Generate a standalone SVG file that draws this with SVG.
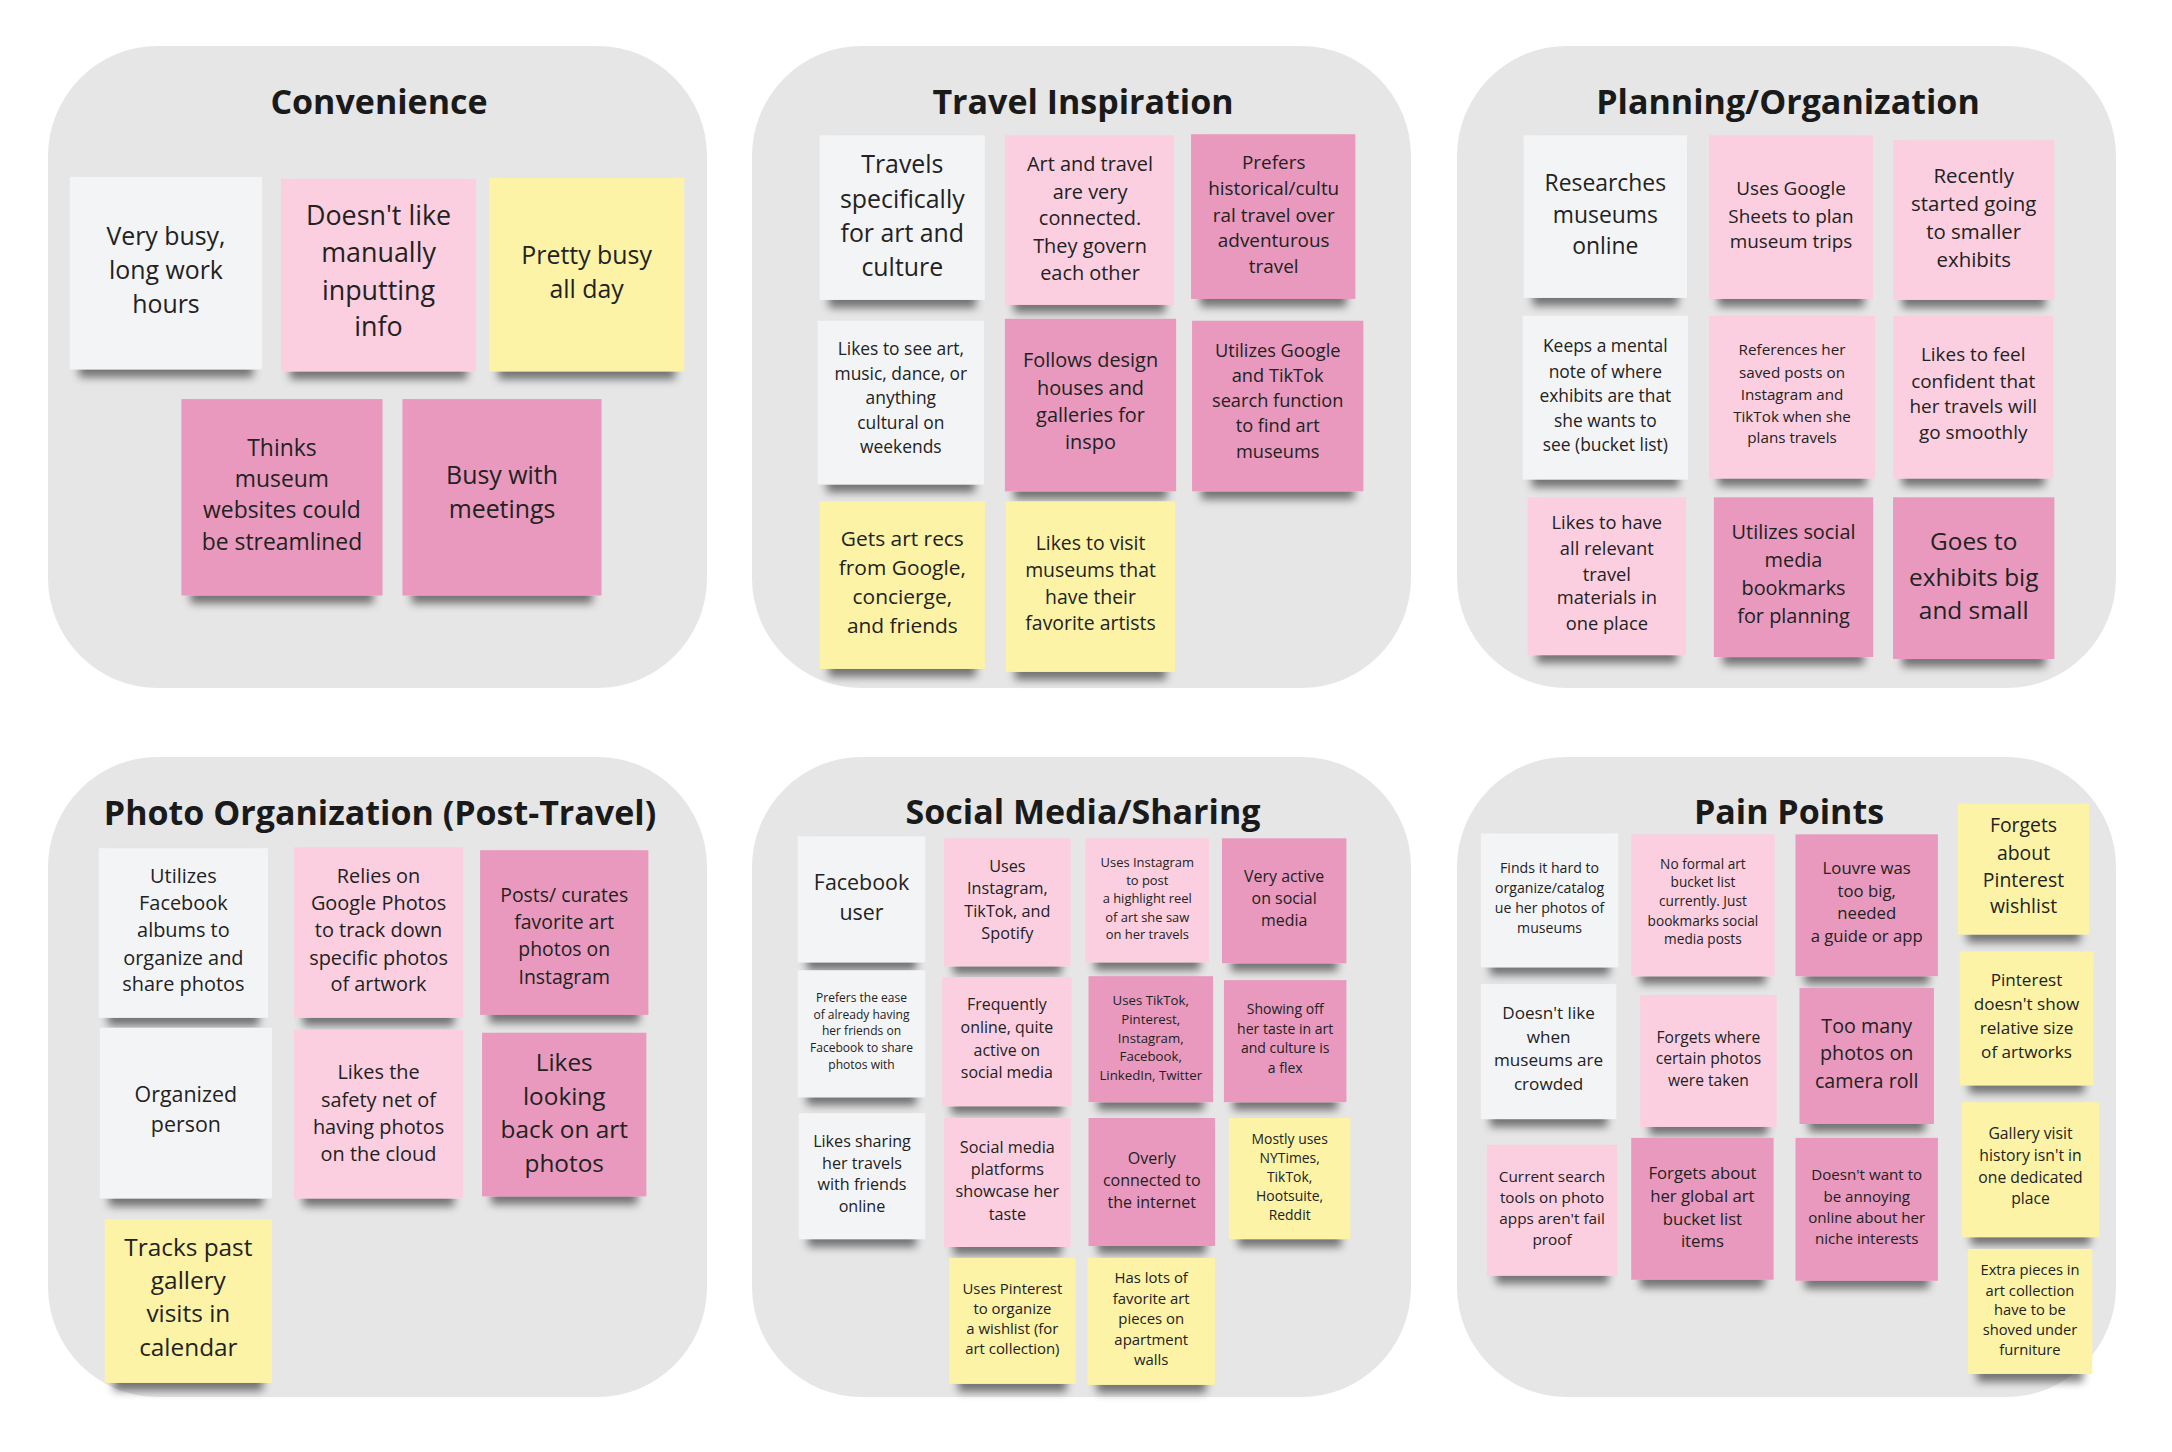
<svg xmlns="http://www.w3.org/2000/svg" width="2172" height="1452" viewBox="0 0 2172 1452">
<style>
.panel{fill:#e6e6e6}
.ttl{font-family:"Open Sans","Liberation Sans",sans-serif;font-weight:700;font-size:34px;fill:#1a1a1a;text-anchor:middle}
.t{font-family:"Open Sans","Liberation Sans",sans-serif;fill:#222;text-anchor:middle}
.w{fill:#f3f4f6}
.lp{fill:#fbcfe0}
.dp{fill:#e899bd}
.y{fill:#fcf3a6}
.s{filter:url(#sh)}
</style>
<defs>
<filter id="sh" x="-10%" y="-10%" width="120%" height="130%">
<feMorphology in="SourceAlpha" operator="erode" radius="9 0" result="e"/>
<feOffset in="e" dy="8" result="o"/>
<feGaussianBlur in="o" stdDeviation="4.5" result="b"/>
<feComponentTransfer in="b" result="s"><feFuncA type="linear" slope="0.5"/></feComponentTransfer>
<feMerge><feMergeNode in="s"/><feMergeNode in="SourceGraphic"/></feMerge>
</filter>
</defs>
<rect width="2172" height="1452" fill="#ffffff"/>

<!-- Panels -->
<g id="panel-convenience">
<rect class="panel" x="48" y="46" width="659" height="642" rx="110"/>
<text class="ttl" x="379" y="114">Convenience</text>
</g>
<g id="panel-travel">
<rect class="panel" x="752" y="46" width="659" height="642" rx="110"/>
<text class="ttl" x="1083" y="114">Travel Inspiration</text>
</g>
<g id="panel-planning">
<rect class="panel" x="1457" y="46" width="659" height="642" rx="110"/>
<text class="ttl" x="1788" y="114">Planning/Organization</text>
</g>
<g id="panel-photo">
<rect class="panel" x="48" y="757" width="659" height="640" rx="110"/>
<text class="ttl" x="380" y="825">Photo Organization (Post-Travel)</text>
</g>
<g id="panel-social">
<rect class="panel" x="752" y="757" width="659" height="640" rx="110"/>
<text class="ttl" x="1083" y="824">Social Media/Sharing</text>
</g>
<g id="panel-pain">
<rect class="panel" x="1457" y="757" width="659" height="640" rx="110"/>
<text class="ttl" x="1789" y="824">Pain Points</text>
</g>

<!-- Convenience -->
<g id="convenience-notes" transform="translate(40,40) scale(0.9957,0.992) translate(-40,-40)">
<g id="c1"><rect class="w s" x="70" y="178" width="193" height="194"/>
<text class="t" font-size="25"><tspan x="166.5" y="247">Very busy,</tspan><tspan x="166.5" y="281">long work</tspan><tspan x="166.5" y="315">hours</tspan></text></g>
<g id="c2"><rect class="lp s" x="282" y="180" width="196" height="194"/>
<text class="t" font-size="27"><tspan x="380" y="226">Doesn't like</tspan><tspan x="380" y="264">manually</tspan><tspan x="380" y="302">inputting</tspan><tspan x="380" y="338">info</tspan></text></g>
<g id="c3"><rect class="y s" x="491" y="179" width="196" height="195"/>
<text class="t" font-size="25"><tspan x="589" y="266">Pretty busy</tspan><tspan x="589" y="300">all day</tspan></text></g>
<g id="c4"><rect class="dp s" x="182" y="402" width="202" height="198"/>
<text class="t" font-size="23"><tspan x="283" y="459">Thinks</tspan><tspan x="283" y="490.5">museum</tspan><tspan x="283" y="522">websites could</tspan><tspan x="283" y="554">be streamlined</tspan></text></g>
<g id="c5"><rect class="dp s" x="404" y="402" width="200" height="198"/>
<text class="t" font-size="25"><tspan x="504" y="488">Busy with</tspan><tspan x="504" y="522">meetings</tspan></text></g>
</g>

<!-- Travel Inspiration -->
<g id="travel-notes" transform="translate(745,40) scale(0.9957,0.992) translate(-745,-40)">
<g id="t1"><rect class="w s" x="820" y="136" width="166" height="166"/>
<text class="t" font-size="25"><tspan x="903" y="174.5">Travels</tspan><tspan x="903" y="209">specifically</tspan><tspan x="903" y="244">for art and</tspan><tspan x="903" y="278">culture</tspan></text></g>
<g id="t2"><rect class="lp s" x="1006" y="136" width="170" height="171"/>
<text class="t" font-size="20"><tspan x="1091.5" y="172">Art and travel</tspan><tspan x="1091.5" y="200">are very</tspan><tspan x="1091.5" y="227">connected.</tspan><tspan x="1091.5" y="255">They govern</tspan><tspan x="1091.5" y="282">each other</tspan></text></g>
<g id="t3"><rect class="dp s" x="1193" y="135" width="165" height="166"/>
<text class="t" font-size="19"><tspan x="1276" y="170">Prefers</tspan><tspan x="1276" y="196.5">historical/cultu</tspan><tspan x="1276" y="223">ral travel over</tspan><tspan x="1276" y="249">adventurous</tspan><tspan x="1276" y="275">travel</tspan></text></g>
<g id="t4"><rect class="w s" x="818" y="323" width="167" height="165"/>
<text class="t" font-size="17.5"><tspan x="901.5" y="358">Likes to see art,</tspan><tspan x="901.5" y="382.6">music, dance, or</tspan><tspan x="901.5" y="407.2">anything</tspan><tspan x="901.5" y="431.7">cultural on</tspan><tspan x="901.5" y="456.5">weekends</tspan></text></g>
<g id="t5"><rect class="dp s" x="1006" y="321" width="172" height="174"/>
<text class="t" font-size="20"><tspan x="1092" y="370">Follows design</tspan><tspan x="1092" y="397.5">houses and</tspan><tspan x="1092" y="425">galleries for</tspan><tspan x="1092" y="452.5">inspo</tspan></text></g>
<g id="t6"><rect class="dp s" x="1194" y="323" width="172" height="172"/>
<text class="t" font-size="18.3"><tspan x="1280" y="359.5">Utilizes Google</tspan><tspan x="1280" y="385">and TikTok</tspan><tspan x="1280" y="409.5">search function</tspan><tspan x="1280" y="435.5">to find art</tspan><tspan x="1280" y="461">museums</tspan></text></g>
<g id="t7"><rect class="y s" x="820" y="505" width="166" height="169"/>
<text class="t" font-size="21"><tspan x="903" y="550">Gets art recs</tspan><tspan x="903" y="579.5">from Google,</tspan><tspan x="903" y="609">concierge,</tspan><tspan x="903" y="637.5">and friends</tspan></text></g>
<g id="t8"><rect class="y s" x="1007" y="505" width="170" height="172"/>
<text class="t" font-size="19.5"><tspan x="1092" y="554">Likes to visit</tspan><tspan x="1092" y="581.5">museums that</tspan><tspan x="1092" y="609">have their</tspan><tspan x="1092" y="634.5">favorite artists</tspan></text></g>
</g>

<!-- Planning/Organization -->
<g id="planning-notes" transform="translate(1450,40) scale(0.9957,0.992) translate(-1450,-40)">
<g id="p1"><rect class="w s" x="1524" y="136" width="164" height="164"/>
<text class="t" font-size="23"><tspan x="1606" y="192.5">Researches</tspan><tspan x="1606" y="224">museums</tspan><tspan x="1606" y="256">online</tspan></text></g>
<g id="p2"><rect class="lp s" x="1710" y="136" width="165" height="165"/>
<text class="t" font-size="19"><tspan x="1792.5" y="196.5">Uses Google</tspan><tspan x="1792.5" y="224">Sheets to plan</tspan><tspan x="1792.5" y="249.5">museum trips</tspan></text></g>
<g id="p3"><rect class="lp s" x="1895" y="141" width="162" height="161"/>
<text class="t" font-size="20.5"><tspan x="1976" y="184">Recently</tspan><tspan x="1976" y="212.5">started going</tspan><tspan x="1976" y="241">to smaller</tspan><tspan x="1976" y="268.5">exhibits</tspan></text></g>
<g id="p4"><rect class="w s" x="1523" y="318" width="166" height="165"/>
<text class="t" font-size="17.5"><tspan x="1606" y="355">Keeps a mental</tspan><tspan x="1606" y="380.5">note of where</tspan><tspan x="1606" y="405">exhibits are that</tspan><tspan x="1606" y="430">she wants to</tspan><tspan x="1606" y="454.5">see (bucket list)</tspan></text></g>
<g id="p5"><rect class="lp s" x="1710" y="318" width="167" height="164"/>
<text class="t" font-size="15.3"><tspan x="1793.5" y="358">References her</tspan><tspan x="1793.5" y="380.5">saved posts on</tspan><tspan x="1793.5" y="403">Instagram and</tspan><tspan x="1793.5" y="425">TikTok when she</tspan><tspan x="1793.5" y="446.5">plans travels</tspan></text></g>
<g id="p6"><rect class="lp s" x="1895" y="318" width="161" height="164"/>
<text class="t" font-size="19"><tspan x="1975.5" y="363.5">Likes to feel</tspan><tspan x="1975.5" y="391">confident that</tspan><tspan x="1975.5" y="416.5">her travels will</tspan><tspan x="1975.5" y="442">go smoothly</tspan></text></g>
<g id="p7"><rect class="lp s" x="1528" y="501" width="159" height="159"/>
<text class="t" font-size="18.4"><tspan x="1607.5" y="533">Likes to have</tspan><tspan x="1607.5" y="559.5">all relevant</tspan><tspan x="1607.5" y="585">travel</tspan><tspan x="1607.5" y="609">materials in</tspan><tspan x="1607.5" y="634.5">one place</tspan></text></g>
<g id="p8"><rect class="dp s" x="1715" y="501" width="160" height="161"/>
<text class="t" font-size="20"><tspan x="1795" y="543.5">Utilizes social</tspan><tspan x="1795" y="571">media</tspan><tspan x="1795" y="599">bookmarks</tspan><tspan x="1795" y="628">for planning</tspan></text></g>
<g id="p9"><rect class="dp s" x="1895" y="501" width="162" height="163"/>
<text class="t" font-size="24.5"><tspan x="1976" y="554">Goes to</tspan><tspan x="1976" y="590">exhibits big</tspan><tspan x="1976" y="624">and small</tspan></text></g>
</g>

<!-- Photo Organization -->
<g id="photo-notes" transform="translate(40,750) scale(0.9957,0.992) translate(-40,-750)">
<g id="ph1"><rect class="w s" x="99" y="849" width="170" height="171"/>
<text class="t" font-size="20"><tspan x="184" y="884.5">Utilizes</tspan><tspan x="184" y="911.5">Facebook</tspan><tspan x="184" y="939">albums to</tspan><tspan x="184" y="966.5">organize and</tspan><tspan x="184" y="993">share photos</tspan></text></g>
<g id="ph2"><rect class="lp s" x="295" y="848" width="170" height="172"/>
<text class="t" font-size="20"><tspan x="380" y="884.5">Relies on</tspan><tspan x="380" y="911.5">Google Photos</tspan><tspan x="380" y="939">to track down</tspan><tspan x="380" y="966.5">specific photos</tspan><tspan x="380" y="993">of artwork</tspan></text></g>
<g id="ph3"><rect class="dp s" x="482" y="851" width="169" height="166"/>
<text class="t" font-size="19.5"><tspan x="566.5" y="903">Posts/ curates</tspan><tspan x="566.5" y="930.5">favorite art</tspan><tspan x="566.5" y="958">photos on</tspan><tspan x="566.5" y="985.5">Instagram</tspan></text></g>
<g id="ph4"><rect class="w s" x="100" y="1030" width="173" height="172"/>
<text class="t" font-size="21.5"><tspan x="186.5" y="1105">Organized</tspan><tspan x="186.5" y="1135">person</tspan></text></g>
<g id="ph5"><rect class="lp s" x="295" y="1032" width="170" height="170"/>
<text class="t" font-size="20"><tspan x="380" y="1082">Likes the</tspan><tspan x="380" y="1109.5">safety net of</tspan><tspan x="380" y="1137">having photos</tspan><tspan x="380" y="1164">on the cloud</tspan></text></g>
<g id="ph6"><rect class="dp s" x="484" y="1035" width="165" height="165"/>
<text class="t" font-size="24.5"><tspan x="566.5" y="1073.5">Likes</tspan><tspan x="566.5" y="1107.5">looking</tspan><tspan x="566.5" y="1141">back on art</tspan><tspan x="566.5" y="1175">photos</tspan></text></g>
<g id="ph7"><rect class="y s" x="105" y="1223" width="168" height="165"/>
<text class="t" font-size="24.5"><tspan x="189" y="1260">Tracks past</tspan><tspan x="189" y="1293.5">gallery</tspan><tspan x="189" y="1327">visits in</tspan><tspan x="189" y="1361">calendar</tspan></text></g>
</g>

<!-- Social Media/Sharing -->
<g id="social-notes" transform="translate(745,750) scale(0.9957,0.992) translate(-745,-750)">
<g id="s1"><rect class="w s" x="798" y="837" width="128" height="127"/>
<text class="t" font-size="21.5"><tspan x="862" y="891.5">Facebook</tspan><tspan x="862" y="921.5">user</tspan></text></g>
<g id="s2"><rect class="lp s" x="945" y="839" width="127" height="129"/>
<text class="t" font-size="16.3"><tspan x="1008.5" y="873">Uses</tspan><tspan x="1008.5" y="895.5">Instagram,</tspan><tspan x="1008.5" y="918">TikTok, and</tspan><tspan x="1008.5" y="940.5">Spotify</tspan></text></g>
<g id="s3"><rect class="lp s" x="1087" y="839" width="124" height="125"/>
<text class="t" font-size="13"><tspan x="1149" y="867.5">Uses Instagram</tspan><tspan x="1149" y="886">to post</tspan><tspan x="1149" y="904.5">a highlight reel</tspan><tspan x="1149" y="923">of art she saw</tspan><tspan x="1149" y="941">on her travels</tspan></text></g>
<g id="s4"><rect class="dp s" x="1224" y="839" width="125" height="126"/>
<text class="t" font-size="16"><tspan x="1286.5" y="883">Very active</tspan><tspan x="1286.5" y="905">on social</tspan><tspan x="1286.5" y="927">media</tspan></text></g>
<g id="s5"><rect class="w s" x="798" y="972" width="128" height="128"/>
<text class="t" font-size="12.1"><tspan x="862" y="1004">Prefers the ease</tspan><tspan x="862" y="1021">of already having</tspan><tspan x="862" y="1037.5">her friends on</tspan><tspan x="862" y="1054.5">Facebook to share</tspan><tspan x="862" y="1071.5">photos with</tspan></text></g>
<g id="s6"><rect class="lp s" x="943" y="979" width="130" height="130"/>
<text class="t" font-size="16"><tspan x="1008" y="1012">Frequently</tspan><tspan x="1008" y="1035.5">online, quite</tspan><tspan x="1008" y="1058">active on</tspan><tspan x="1008" y="1081">social media</tspan></text></g>
<g id="s7"><rect class="dp s" x="1090" y="978" width="125" height="127"/>
<text class="t" font-size="13.3"><tspan x="1152.5" y="1007">Uses TikTok,</tspan><tspan x="1152.5" y="1026">Pinterest,</tspan><tspan x="1152.5" y="1045">Instagram,</tspan><tspan x="1152.5" y="1064">Facebook,</tspan><tspan x="1152.5" y="1083">LinkedIn, Twitter</tspan></text></g>
<g id="s8"><rect class="dp s" x="1226" y="982" width="123" height="123"/>
<text class="t" font-size="14.1"><tspan x="1287.5" y="1016.5">Showing off</tspan><tspan x="1287.5" y="1036.5">her taste in art</tspan><tspan x="1287.5" y="1055.5">and culture is</tspan><tspan x="1287.5" y="1075.5">a flex</tspan></text></g>
<g id="s9"><rect class="w s" x="799" y="1116" width="127" height="127"/>
<text class="t" font-size="16.2"><tspan x="862.5" y="1150">Likes sharing</tspan><tspan x="862.5" y="1172">her travels</tspan><tspan x="862.5" y="1194">with friends</tspan><tspan x="862.5" y="1216">online</tspan></text></g>
<g id="s10"><rect class="lp s" x="945" y="1121" width="127" height="130"/>
<text class="t" font-size="16.3"><tspan x="1008.5" y="1156">Social media</tspan><tspan x="1008.5" y="1178.5">platforms</tspan><tspan x="1008.5" y="1201">showcase her</tspan><tspan x="1008.5" y="1224">taste</tspan></text></g>
<g id="s11"><rect class="dp s" x="1090" y="1121" width="127" height="129"/>
<text class="t" font-size="16.1"><tspan x="1153.5" y="1167">Overly</tspan><tspan x="1153.5" y="1190">connected to</tspan><tspan x="1153.5" y="1212">the internet</tspan></text></g>
<g id="s12"><rect class="y s" x="1231" y="1121" width="122" height="122"/>
<text class="t" font-size="14"><tspan x="1292" y="1147">Mostly uses</tspan><tspan x="1292" y="1166">NYTimes,</tspan><tspan x="1292" y="1185.5">TikTok,</tspan><tspan x="1292" y="1205">Hootsuite,</tspan><tspan x="1292" y="1224">Reddit</tspan></text></g>
<g id="s13"><rect class="y s" x="950" y="1262" width="127" height="127"/>
<text class="t" font-size="15"><tspan x="1013.5" y="1298">Uses Pinterest</tspan><tspan x="1013.5" y="1319">to organize</tspan><tspan x="1013.5" y="1339">a wishlist (for</tspan><tspan x="1013.5" y="1359">art collection)</tspan></text></g>
<g id="s14"><rect class="y s" x="1089" y="1262" width="128" height="128"/>
<text class="t" font-size="15"><tspan x="1153" y="1287">Has lots of</tspan><tspan x="1153" y="1308.5">favorite art</tspan><tspan x="1153" y="1329">pieces on</tspan><tspan x="1153" y="1350">apartment</tspan><tspan x="1153" y="1370">walls</tspan></text></g>
</g>

<!-- Pain Points -->
<g id="pain-notes" transform="translate(1450,750) scale(0.9957,0.992) translate(-1450,-750)">
<g id="pp1"><rect class="w s" x="1481" y="834" width="138" height="135"/>
<text class="t" font-size="14.2"><tspan x="1550" y="873.5">Finds it hard to</tspan><tspan x="1550" y="894">organize/catalog</tspan><tspan x="1550" y="914">ue her photos of</tspan><tspan x="1550" y="934">museums</tspan></text></g>
<g id="pp2"><rect class="lp s" x="1632" y="835" width="144" height="143"/>
<text class="t" font-size="13.7"><tspan x="1704" y="869.5">No formal art</tspan><tspan x="1704" y="888.5">bucket list</tspan><tspan x="1704" y="907.5">currently. Just</tspan><tspan x="1704" y="927">bookmarks social</tspan><tspan x="1704" y="945.5">media posts</tspan></text></g>
<g id="pp3"><rect class="dp s" x="1797" y="835" width="143" height="143"/>
<text class="t" font-size="16.8"><tspan x="1868.5" y="875">Louvre was</tspan><tspan x="1868.5" y="898">too big,</tspan><tspan x="1868.5" y="920.5">needed</tspan><tspan x="1868.5" y="943.5">a guide or app</tspan></text></g>
<g id="pp4"><rect class="y s" x="1960" y="804" width="132" height="132"/>
<text class="t" font-size="19.5"><tspan x="2026" y="833">Forgets</tspan><tspan x="2026" y="860.5">about</tspan><tspan x="2026" y="888">Pinterest</tspan><tspan x="2026" y="914.5">wishlist</tspan></text></g>
<g id="pp5"><rect class="w s" x="1481" y="986" width="136" height="136"/>
<text class="t" font-size="17.2"><tspan x="1549" y="1021.5">Doesn't like</tspan><tspan x="1549" y="1045">when</tspan><tspan x="1549" y="1068.5">museums are</tspan><tspan x="1549" y="1092.5">crowded</tspan></text></g>
<g id="pp6"><rect class="lp s" x="1641" y="997" width="137" height="133"/>
<text class="t" font-size="15.7"><tspan x="1709.5" y="1045">Forgets where</tspan><tspan x="1709.5" y="1066.5">certain photos</tspan><tspan x="1709.5" y="1088.5">were taken</tspan></text></g>
<g id="pp7"><rect class="dp s" x="1801" y="990" width="135" height="137"/>
<text class="t" font-size="19.8"><tspan x="1868.5" y="1035.5">Too many</tspan><tspan x="1868.5" y="1063">photos on</tspan><tspan x="1868.5" y="1090.5">camera roll</tspan></text></g>
<g id="pp8"><rect class="y s" x="1962" y="953" width="134" height="135"/>
<text class="t" font-size="17.2"><tspan x="2029" y="988">Pinterest</tspan><tspan x="2029" y="1012">doesn't show</tspan><tspan x="2029" y="1036.5">relative size</tspan><tspan x="2029" y="1060">of artworks</tspan></text></g>
<g id="pp9"><rect class="lp s" x="1487" y="1148" width="131" height="132"/>
<text class="t" font-size="15.4"><tspan x="1552.5" y="1185.5">Current search</tspan><tspan x="1552.5" y="1207">tools on photo</tspan><tspan x="1552.5" y="1228">apps aren't fail</tspan><tspan x="1552.5" y="1249">proof</tspan></text></g>
<g id="pp10"><rect class="dp s" x="1632" y="1141" width="143" height="143"/>
<text class="t" font-size="16.8"><tspan x="1703.5" y="1182.5">Forgets about</tspan><tspan x="1703.5" y="1206">her global art</tspan><tspan x="1703.5" y="1229">bucket list</tspan><tspan x="1703.5" y="1251">items</tspan></text></g>
<g id="pp11"><rect class="dp s" x="1797" y="1141" width="143" height="144"/>
<text class="t" font-size="15.2"><tspan x="1868.5" y="1183.5">Doesn't want to</tspan><tspan x="1868.5" y="1206">be annoying</tspan><tspan x="1868.5" y="1227">online about her</tspan><tspan x="1868.5" y="1248">niche interests</tspan></text></g>
<g id="pp12"><rect class="y s" x="1964" y="1105" width="138" height="136"/>
<text class="t" font-size="15.8"><tspan x="2033" y="1142.5">Gallery visit</tspan><tspan x="2033" y="1164.5">history isn't in</tspan><tspan x="2033" y="1186.5">one dedicated</tspan><tspan x="2033" y="1208">place</tspan></text></g>
<g id="pp13"><rect class="y s" x="1970" y="1253" width="125" height="126"/>
<text class="t" font-size="14.8"><tspan x="2032.5" y="1279.5">Extra pieces in</tspan><tspan x="2032.5" y="1300">art collection</tspan><tspan x="2032.5" y="1320">have to be</tspan><tspan x="2032.5" y="1340">shoved under</tspan><tspan x="2032.5" y="1360">furniture</tspan></text></g>
</g>
</svg>
